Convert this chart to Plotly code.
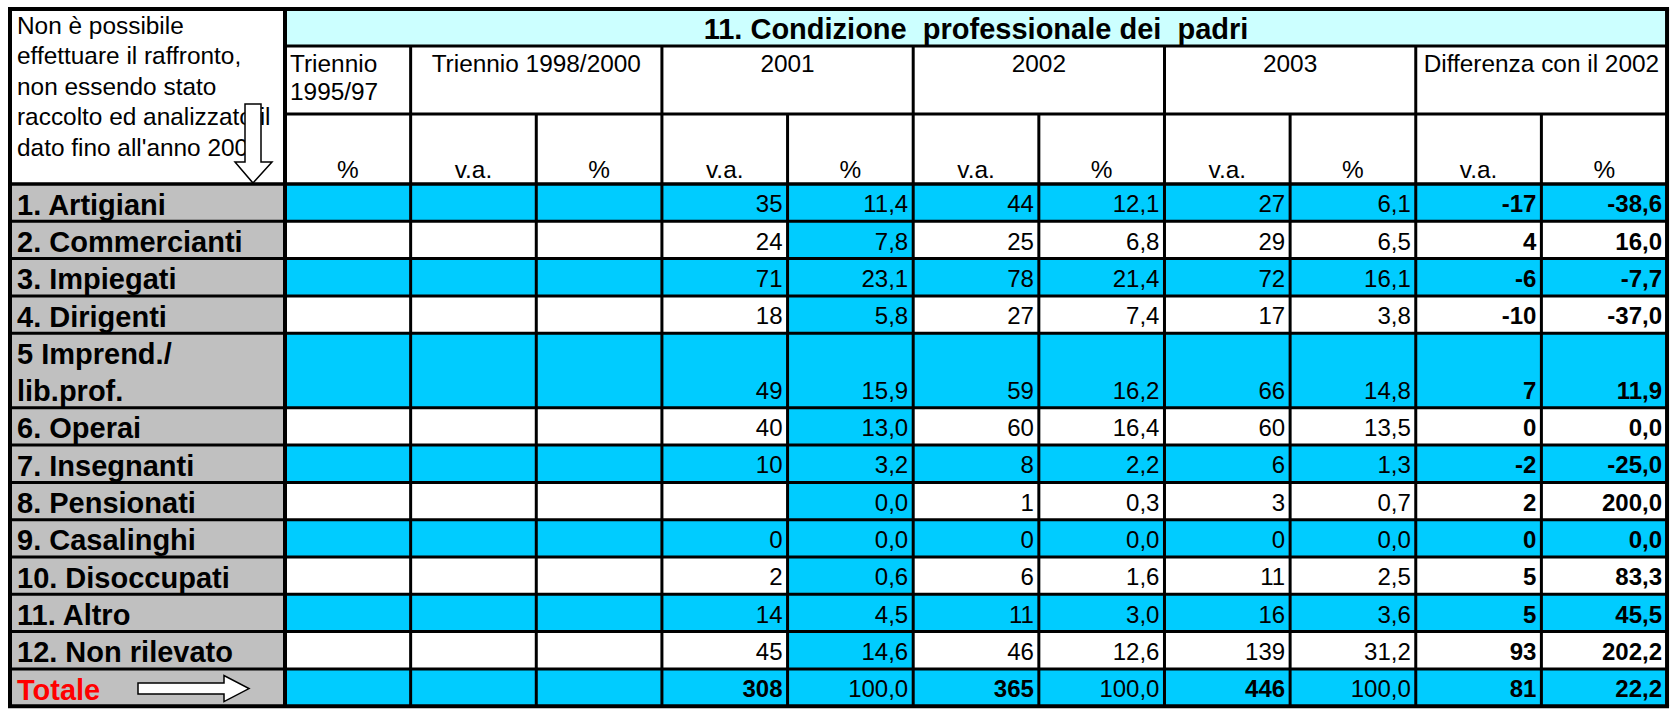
import plotly.graph_objects as go

# ---------------- data ----------------
title_text = "11. Condizione  professionale dei  padri"
note_lines = ["Non è possibile", "effettuare il raffronto,", "non essendo stato",
              "raccolto ed analizzato il", "dato fino all'anno 2001"]
first_header_lines = ["Triennio", "1995/97"]
group_headers = ["Triennio 1998/2000", "2001", "2002", "2003", "Differenza con il 2002"]
sub_headers = ["%", "v.a.", "%", "v.a.", "%", "v.a.", "%", "v.a.", "%", "v.a.", "%"]

categories = ["1. Artigiani", "2. Commercianti", "3. Impiegati", "4. Dirigenti",
              "5 Imprend./\nlib.prof.", "6. Operai", "7. Insegnanti", "8. Pensionati",
              "9. Casalinghi", "10. Disoccupati", "11. Altro", "12. Non rilevato", "Totale"]

tri95_pct = [None] * 13
tri98_va = [None] * 13
tri98_pct = [None] * 13
va_2001 = [35, 24, 71, 18, 49, 40, 10, None, 0, 2, 14, 45, 308]
pct_2001 = [11.4, 7.8, 23.1, 5.8, 15.9, 13.0, 3.2, 0.0, 0.0, 0.6, 4.5, 14.6, 100.0]
va_2002 = [44, 25, 78, 27, 59, 60, 8, 1, 0, 6, 11, 46, 365]
pct_2002 = [12.1, 6.8, 21.4, 7.4, 16.2, 16.4, 2.2, 0.3, 0.0, 1.6, 3.0, 12.6, 100.0]
va_2003 = [27, 29, 72, 17, 66, 60, 6, 3, 0, 11, 16, 139, 446]
pct_2003 = [6.1, 6.5, 16.1, 3.8, 14.8, 13.5, 1.3, 0.7, 0.0, 2.5, 3.6, 31.2, 100.0]
diff_va = [-17, 4, -6, -10, 7, 0, -2, 2, 0, 5, 5, 93, 81]
diff_pct = [-38.6, 16.0, -7.7, -37.0, 11.9, 0.0, -25.0, 200.0, 0.0, 83.3, 45.5, 202.2, 22.2]

columns = [tri95_pct, tri98_va, tri98_pct, va_2001, pct_2001, va_2002, pct_2002,
           va_2003, pct_2003, diff_va, diff_pct]
is_pct = [True, False, True, False, True, False, True, False, True, False, True]

# ---------------- styling / geometry ----------------
W, H = 1671, 709
FONT = "Liberation Sans, Arial, sans-serif"
CYAN = "#00CCFF"
LIGHT_CYAN = "#CCFFFF"
GRAY = "#C0C0C0"
LEFT, TOP = 10, 9
LABEL_W = 275
COL_W = 125.64
TITLE_H, HDR2_H, HDR3_H = 37, 68, 70
UNIT_H = 37.3
NC = len(columns)

xe = [LEFT, LEFT + LABEL_W] + [LEFT + LABEL_W + COL_W * (i + 1) for i in range(NC)]
RIGHT = xe[-1]
y_title_b = TOP + TITLE_H
y_h2_b = y_title_b + HDR2_H
y_h3_b = y_h2_b + HDR3_H
row_units = [2 if "\n" in c else 1 for c in categories]
ye = [y_h3_b]
for u in row_units:
    ye.append(ye[-1] + u * UNIT_H)
BOTTOM = ye[-1]
NR = len(categories)


def fmt(v, pct):
    if v is None:
        return ""
    if pct:
        return f"{v:.1f}".replace(".", ",")
    return str(int(v))


def text_trace(xs, ys, texts, pos, size, bold=False, color="black"):
    sh = 0.108 * size
    t = [f"<b>{s}</b>" if bold else s for s in texts]
    return go.Scatter(x=xs, y=[y + sh for y in ys], text=t, mode="text",
                      textposition=pos, cliponaxis=False, hoverinfo="skip",
                      showlegend=False,
                      textfont=dict(family=FONT, size=size, color=color))


shapes = []


def rect(x0, y0, x1, y1, color):
    shapes.append(dict(type="rect", xref="x", yref="y", x0=x0, x1=x1, y0=y0, y1=y1,
                       fillcolor=color, line=dict(width=0), layer="below"))


# fills
rect(xe[1], TOP, RIGHT, y_title_b, LIGHT_CYAN)
for r in range(NR):
    rect(xe[0], ye[r], xe[1], ye[r + 1], GRAY)
    full = (r % 2 == 0)
    for c in range(NC):
        if full or c == 4:
            rect(xe[c + 1], ye[r], xe[c + 2], ye[r + 1], CYAN)

# arrows (white with black outline), drawn before borders
lx0, lx1 = xe[0], xe[1]
ax_c = lx0 + 243
arrow_down = (f"M {ax_c-8} {TOP+95} L {ax_c+8} {TOP+95} L {ax_c+8} {TOP+153} "
              f"L {ax_c+19} {TOP+153} L {ax_c} {y_h3_b-1} L {ax_c-18} {TOP+153} "
              f"L {ax_c-8} {TOP+153} Z")
shapes.append(dict(type="path", path=arrow_down, fillcolor="white",
                   line=dict(color="black", width=1.5), layer="above"))
tb = ye[-1]
tm = (ye[-2] + ye[-1]) / 2 + 1
arrow_right = (f"M {lx0+128} {tm-5.5} L {lx0+214} {tm-5.5} L {lx0+214} {tm-13} "
               f"L {lx0+239} {tm} L {lx0+214} {tm+13} L {lx0+214} {tm+5.5} "
               f"L {lx0+128} {tm+5.5} Z")
shapes.append(dict(type="path", path=arrow_right, fillcolor="white",
                   line=dict(color="black", width=1.5), layer="above"))


def line(x0, y0, x1, y1, w=3):
    shapes.append(dict(type="line", xref="x", yref="y", x0=x0, x1=x1, y0=y0, y1=y1,
                       line=dict(color="black", width=w), layer="above"))


# horizontal lines
line(xe[1], y_title_b, RIGHT, y_title_b)
line(xe[1], y_h2_b, RIGHT, y_h2_b)
for y in ye[:-1]:
    line(LEFT, y, RIGHT, y, 3.5 if y == y_h3_b else 3)
# vertical lines
for k in range(2, NC + 1, 2):
    line(xe[k], y_title_b, xe[k], y_h2_b)
for k in range(2, NC + 1):
    line(xe[k], y_h2_b, xe[k], BOTTOM)
line(xe[1], TOP, xe[1], BOTTOM, 4)
# outer border
line(LEFT - 2, TOP, RIGHT + 2, TOP, 4)
line(LEFT - 2, BOTTOM, RIGHT + 2, BOTTOM, 4)
line(LEFT, TOP, LEFT, BOTTOM, 4)
line(RIGHT, TOP, RIGHT, BOTTOM, 4)

traces = []
HF = 24.4
# note in top-left cell
traces.append(text_trace([lx0 + 7] * len(note_lines),
                         [TOP + 16 + 30.5 * i for i in range(len(note_lines))],
                         note_lines, "middle right", HF))
# title
traces.append(text_trace([(xe[1] + RIGHT) / 2], [(TOP + y_title_b) / 2 + 1],
                         [title_text], "middle center", 29, bold=True))
# first group header (two lines, left aligned)
traces.append(text_trace([xe[1] + 5] * 2, [y_title_b + 17, y_title_b + 45],
                         first_header_lines, "middle right", HF))
# other group headers (centered over 2 columns)
gx = [(xe[2 + 2 * i] + xe[4 + 2 * i]) / 2 for i in range(len(group_headers))]
traces.append(text_trace(gx, [y_title_b + 17] * len(group_headers),
                         group_headers, "middle center", HF))
# sub headers
sx = [(xe[c + 1] + xe[c + 2]) / 2 for c in range(NC)]
traces.append(text_trace(sx, [y_h3_b - 15] * NC, sub_headers, "middle center", HF))

# row labels
lab_x, lab_y, lab_t = [], [], []
for r, cat in enumerate(categories[:-1]):
    parts = cat.split("\n")
    for j, p in enumerate(parts):
        lab_x.append(lx0 + 7)
        lab_y.append(ye[r] + (j + 1) * UNIT_H - 17)
        lab_t.append(p)
traces.append(text_trace(lab_x, lab_y, lab_t, "middle right", 29, bold=True))
traces.append(text_trace([lx0 + 7], [ye[-1] - 17], [categories[-1]], "middle right",
                         29, bold=True, color="#FF0000"))

# numbers
reg = ([], [], [])
bold = ([], [], [])
for c, col in enumerate(columns):
    for r, v in enumerate(col):
        s = fmt(v, is_pct[c])
        if not s:
            continue
        is_bold = c >= 9 or (r == NR - 1 and not is_pct[c])
        tgt = bold if is_bold else reg
        tgt[0].append(xe[c + 2] - 5)
        tgt[1].append(ye[r + 1] - 17.5)
        tgt[2].append(s)
traces.append(text_trace(*reg, "middle left", 24))
traces.append(text_trace(*bold, "middle left", 24, bold=True))

fig = go.Figure(traces)
fig.update_layout(
    width=W, height=H, margin=dict(l=0, r=0, t=0, b=0),
    paper_bgcolor="white", plot_bgcolor="white",
    xaxis=dict(range=[0, W], visible=False, fixedrange=True),
    yaxis=dict(range=[H, 0], visible=False, fixedrange=True),
    shapes=shapes, showlegend=False,
)
fig.write_html("out.html", config={"displayModeBar": False},
               post_script="document.body.style.margin='0';document.body.style.overflow='hidden';")
